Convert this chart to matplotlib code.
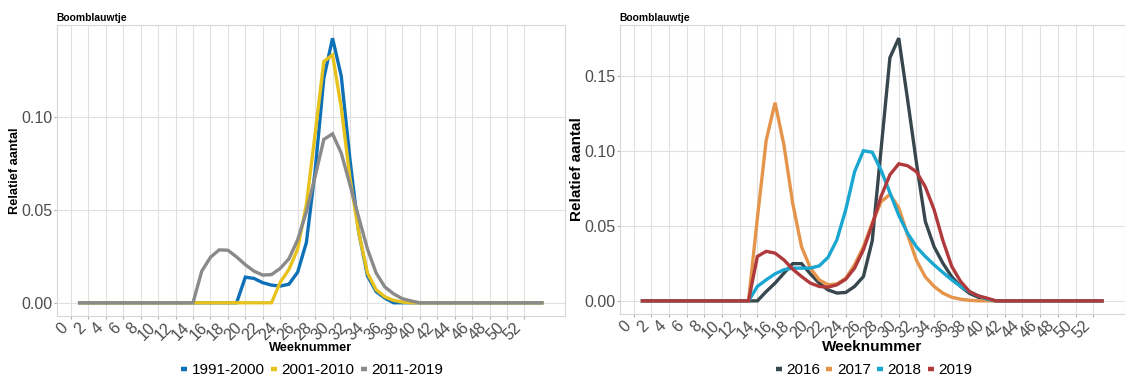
import numpy as np
import matplotlib
matplotlib.use("Agg")
import matplotlib.pyplot as plt

plt.rcParams['font.family'] = ['Liberation Sans', 'DejaVu Sans']

# Boomblauwtje, relative counts per week

# left: decades, weeks 1..54
weeks_dec = np.arange(1, 55)
dec_labels = ["1991-2000", "2001-2010", "2011-2019"]
dec_1991 = [0.0] * 19 + [0.0138, 0.0131, 0.0108, 0.0095, 0.0090, 0.0100, 0.0165, 0.0325,
                         0.071, 0.121, 0.1425, 0.122, 0.077, 0.038, 0.0145, 0.006, 0.0025] + [0.0] * 18
dec_2001 = [0.0] * 23 + [0.011, 0.018, 0.029, 0.053, 0.091, 0.130, 0.1335, 0.105, 0.067,
                         0.038, 0.016, 0.007, 0.0032, 0.0013, 0.0004] + [0.0] * 16
dec_2011 = [0.0] * 14 + [0.017, 0.0245, 0.0285, 0.0283, 0.0247, 0.0205, 0.017, 0.0149, 0.0152,
                         0.0185, 0.0237, 0.034, 0.049, 0.068, 0.088, 0.091, 0.0806, 0.0635,
                         0.046, 0.029, 0.016, 0.0085, 0.0048, 0.0022, 0.001] + [0.0] * 15

# right: single years, weeks 1..53
weeks_yr = np.arange(1, 54)
yr_labels = ["2016", "2017", "2018", "2019"]
yr_2016 = [0.0] * 14 + [0.0062, 0.0118, 0.0184, 0.0248, 0.0248, 0.018, 0.0118, 0.0073, 0.0052,
                        0.0056, 0.0096, 0.0162, 0.040, 0.101, 0.162, 0.175, 0.134, 0.092,
                        0.053, 0.036, 0.025, 0.016, 0.0096, 0.005, 0.0024, 0.0007] + [0.0] * 13
yr_2017 = [0.0] * 13 + [0.055, 0.107, 0.132, 0.104, 0.065, 0.036, 0.0218, 0.014, 0.0107,
                        0.0113, 0.015, 0.024, 0.036, 0.052, 0.066, 0.071, 0.062, 0.044,
                        0.027, 0.016, 0.0096, 0.0051, 0.0024, 0.0011, 0.0004] + [0.0] * 15
yr_2018 = [0.0] * 13 + [0.0096, 0.014, 0.018, 0.0207, 0.0218, 0.0218, 0.0218, 0.0233, 0.029,
                        0.0407, 0.0607, 0.086, 0.100, 0.099, 0.087, 0.072, 0.057, 0.045,
                        0.036, 0.0296, 0.024, 0.0189, 0.014, 0.0096, 0.0062, 0.0033, 0.0011] + [0.0] * 13
yr_2019 = [0.0] * 13 + [0.0296, 0.033, 0.0318, 0.0273, 0.0211, 0.0162, 0.0118, 0.0096, 0.0091,
                        0.0107, 0.0144, 0.0218, 0.034, 0.0507, 0.0696, 0.084, 0.0913, 0.090,
                        0.086, 0.076, 0.0607, 0.040, 0.0229, 0.0129, 0.0062, 0.0033, 0.0018] + [0.0] * 13

dec_colors = ["#0e71b8", "#e8c21c", "#8a8a8a"]
yr_colors = ["#37474d", "#e5944a", "#19a6d0", "#b0393c"]

W, H = 1125, 378
fig = plt.figure(figsize=(W / 100, H / 100), dpi=100)


def panel(rect, weeks, series, labels, colors, yticks, lab_size, xlab_y, ylab_x, leg_x):
    ax = fig.add_axes([rect[0] / W, 1 - rect[3] / H, (rect[2] - rect[0]) / W, (rect[3] - rect[1]) / H])
    for vals, lab, col in zip(series, labels, colors):
        ax.plot(weeks, vals, color=col, lw=2.4, label=lab, solid_joinstyle='miter')

    # ggplot style 5% padding
    xr = weeks.max() - weeks.min()
    ax.set_xlim(weeks.min() - 0.05 * xr, weeks.max() + 0.05 * xr)
    ymax = max(max(v) for v in series)
    ax.set_ylim(-0.05 * ymax, 1.05 * ymax)

    ax.set_xticks(np.arange(0, 53, 2))
    ax.set_xticklabels([str(t) for t in range(0, 53, 2)], rotation=45, ha='right', va='top')
    ax.set_yticks(yticks)
    ax.set_yticklabels(["%.2f" % t for t in yticks])
    ax.tick_params(axis='both', labelsize=11.5, labelcolor='#4d4d4d', color='#b0b0b0',
                   length=2.2, width=0.8, pad=0.6)

    ax.grid(True, color='#e0e0e0', lw=0.8)
    ax.set_axisbelow(True)
    for s in ax.spines.values():
        s.set_color('#d6d6d6')
        s.set_linewidth(0.8)

    ax.set_title("Boomblauwtje", loc='left', fontsize=7.4, fontweight='bold', pad=3)
    ax.set_xlabel("Weeknummer", fontsize=lab_size, fontweight='bold', va='center')
    ax.xaxis.set_label_coords(0.5, xlab_y)
    ax.set_ylabel("Relatief aantal", fontsize=lab_size, fontweight='bold', va='center')
    ax.yaxis.set_label_coords(ylab_x, 0.5)

    leg = ax.legend(loc='center', bbox_to_anchor=(leg_x / W, 1 - 370 / H),
                    bbox_transform=fig.transFigure, ncol=len(labels), frameon=False,
                    fontsize=11, handlelength=0.4, handletextpad=0.3, columnspacing=0.4)
    for h in leg.get_lines():
        h.set_linewidth(3.2)
        h.set_solid_capstyle('butt')
    return ax


panel((56.5, 25, 565, 316), weeks_dec, [dec_1991, dec_2001, dec_2011], dec_labels, dec_colors,
      [0.0, 0.05, 0.10], 9.2, -0.11, -0.082, 312)
panel((619.5, 25, 1125, 314), weeks_yr, [yr_2016, yr_2017, yr_2018, yr_2019], yr_labels, yr_colors,
      [0.0, 0.05, 0.10, 0.15], 11, -0.114, -0.084, 874)

fig.savefig("out.png", dpi=100)
